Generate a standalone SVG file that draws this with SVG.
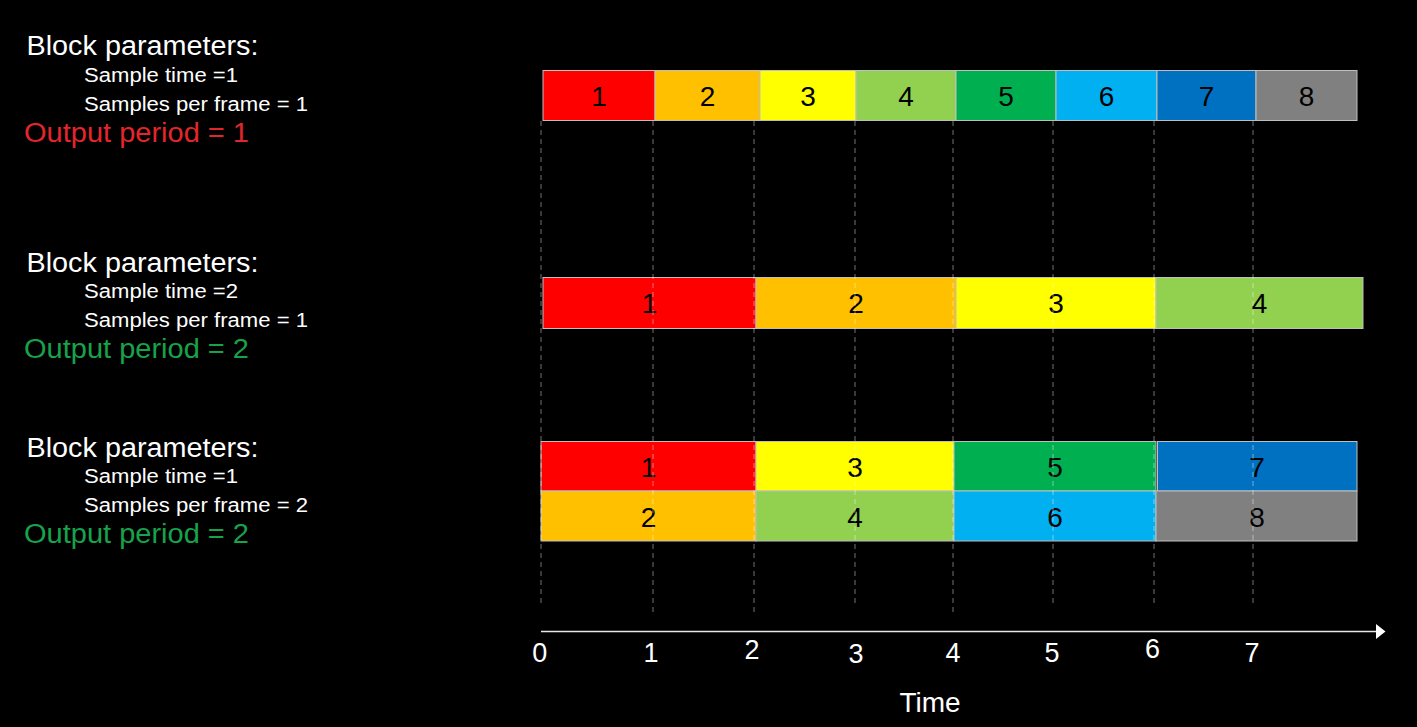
<svg xmlns="http://www.w3.org/2000/svg" width="1417" height="727" viewBox="0 0 1417 727">
<style>
text{font-family:"Liberation Sans",Arial,sans-serif}
.h{font-size:27px;fill:#fff}
.s{font-size:20px;fill:#fff}
.or{font-size:27px;fill:#e3262b}
.og{font-size:27px;fill:#17a24c}
.b{stroke:#bfbfbf;stroke-width:1}
.n{font-size:28px;fill:#000;text-anchor:middle}
.t{font-size:27px;fill:#fff;text-anchor:middle}
.d{stroke:#fff;stroke-opacity:0.45;stroke-width:1;stroke-dasharray:5 4;fill:none}
</style>
<rect width="1417" height="727" fill="#000"/>

<g id="params1">
<text class="h" x="26.5" y="55" textLength="232" lengthAdjust="spacingAndGlyphs">Block parameters:</text>
<text class="s" x="84" y="81.6" textLength="154" lengthAdjust="spacingAndGlyphs">Sample time =1</text>
<text class="s" x="84" y="110.6" textLength="224" lengthAdjust="spacingAndGlyphs">Samples per frame = 1</text>
<text class="or" x="24" y="141.6" textLength="225" lengthAdjust="spacingAndGlyphs">Output period = 1</text>
</g>
<g id="params2">
<text class="h" x="26.5" y="271.7" textLength="232" lengthAdjust="spacingAndGlyphs">Block parameters:</text>
<text class="s" x="84" y="298.3" textLength="154" lengthAdjust="spacingAndGlyphs">Sample time =2</text>
<text class="s" x="84" y="327.3" textLength="224" lengthAdjust="spacingAndGlyphs">Samples per frame = 1</text>
<text class="og" x="24" y="358.3" textLength="225" lengthAdjust="spacingAndGlyphs">Output period = 2</text>
</g>
<g id="params3">
<text class="h" x="26.5" y="456.7" textLength="232" lengthAdjust="spacingAndGlyphs">Block parameters:</text>
<text class="s" x="84" y="483.3" textLength="154" lengthAdjust="spacingAndGlyphs">Sample time =1</text>
<text class="s" x="84" y="512.3" textLength="224" lengthAdjust="spacingAndGlyphs">Samples per frame = 2</text>
<text class="og" x="24" y="543.3" textLength="225" lengthAdjust="spacingAndGlyphs">Output period = 2</text>
</g>

<g id="row1">
<rect class="b" x="543" y="70.5" width="112" height="50" fill="#ff0000"/>
<rect class="b" x="655" y="70.5" width="105" height="50" fill="#ffc000"/>
<rect class="b" x="760" y="70.5" width="96" height="50" fill="#ffff00"/>
<rect class="b" x="856" y="70.5" width="100" height="50" fill="#92d050"/>
<rect class="b" x="956" y="70.5" width="100" height="50" fill="#00b050"/>
<rect class="b" x="1056" y="70.5" width="101" height="50" fill="#00b0f0"/>
<rect class="b" x="1157" y="70.5" width="99" height="50" fill="#0070c0"/>
<rect class="b" x="1256" y="70.5" width="101" height="50" fill="#808080"/>
<text class="n" x="599" y="106">1</text>
<text class="n" x="707.5" y="106">2</text>
<text class="n" x="808" y="106">3</text>
<text class="n" x="906" y="106">4</text>
<text class="n" x="1006" y="106">5</text>
<text class="n" x="1106.5" y="106">6</text>
<text class="n" x="1206.5" y="106">7</text>
<text class="n" x="1306.5" y="106">8</text>
</g>

<g id="row2">
<rect class="b" x="543" y="277.5" width="213" height="51" fill="#ff0000"/>
<rect class="b" x="756" y="277.5" width="200" height="51" fill="#ffc000"/>
<rect class="b" x="956" y="277.5" width="200" height="51" fill="#ffff00"/>
<rect class="b" x="1156" y="277.5" width="207" height="51" fill="#92d050"/>
<text class="n" x="649.5" y="313">1</text>
<text class="n" x="856" y="313">2</text>
<text class="n" x="1056" y="313">3</text>
<text class="n" x="1259.5" y="313">4</text>
</g>

<g id="row3">
<rect class="b" x="541" y="441.5" width="215" height="49.5" fill="#ff0000"/>
<rect class="b" x="756" y="441.5" width="198" height="49.5" fill="#ffff00"/>
<rect class="b" x="954" y="441.5" width="202" height="49.5" fill="#00b050"/>
<rect class="b" x="1157.5" y="441.5" width="199.5" height="49.5" fill="#0070c0"/>
<rect class="b" x="541" y="491" width="215" height="50" fill="#ffc000"/>
<rect class="b" x="756" y="491" width="198" height="50" fill="#92d050"/>
<rect class="b" x="954" y="491" width="202" height="50" fill="#00b0f0"/>
<rect class="b" x="1156" y="491" width="201" height="50" fill="#808080"/>
<text class="n" x="648.5" y="476.5">1</text>
<text class="n" x="855" y="476.5">3</text>
<text class="n" x="1055" y="476.5">5</text>
<text class="n" x="1257" y="476.5">7</text>
<text class="n" x="648.5" y="527">2</text>
<text class="n" x="855" y="527">4</text>
<text class="n" x="1055" y="527">6</text>
<text class="n" x="1257" y="527">8</text>
</g>

<g id="connectors">
<path class="d" d="M541 121V605M653 121V615M754 121V615M855 121V605M953 121V615M1053 121V605M1154 121V605M1253 121V605"/>
<line x1="541" y1="631.5" x2="1377" y2="631.5" stroke="#e6e6e6" stroke-width="1.5"/>
<polygon points="1376,624 1385.5,631.5 1376,639" fill="#fff"/>
</g>

<g id="axis">
<text class="t" x="539.7" y="661.7">0</text>
<text class="t" x="651" y="662">1</text>
<text class="t" x="752" y="659">2</text>
<text class="t" x="856" y="662.7">3</text>
<text class="t" x="953" y="662">4</text>
<text class="t" x="1052" y="661.7">5</text>
<text class="t" x="1152.5" y="658.3">6</text>
<text class="t" x="1252" y="661.7">7</text>
<text x="930" y="711.7" style="font-size:28px;fill:#fff;text-anchor:middle">Time</text>
</g>
</svg>
